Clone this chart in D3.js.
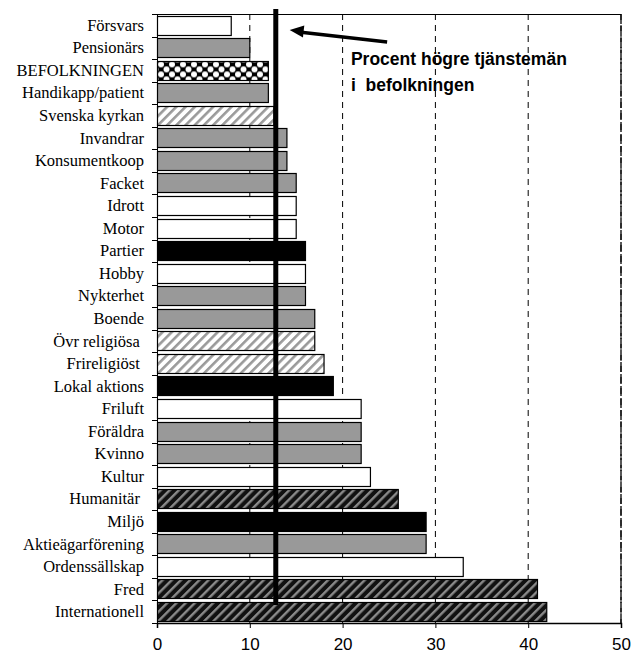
<!DOCTYPE html>
<meta charset="UTF-8">
<style>
body { margin: 0; background: #fff; }
.cat text { font: 16.5px "Liberation Serif", serif; fill: #000; }
.grid line { stroke: #000; stroke-width: 1; stroke-dasharray: 6,5; }
.note { font: bold 17.5px "Liberation Sans", Arial, sans-serif; }
</style>
<body>
<script src="https://d3js.org/d3.v7.min.js"></script>
<script>

// categories, top to bottom
var categories = ["Försvars", "Pensionärs", "BEFOLKNINGEN", "Handikapp/patient", "Svenska kyrkan",
  "Invandrar", "Konsumentkoop", "Facket", "Idrott", "Motor", "Partier", "Hobby", "Nykterhet",
  "Boende", "Övr religiösa ", "Frireligiöst ", "Lokal aktions", "Friluft", "Föräldra", "Kvinno",
  "Kultur", "Humanitär ", "Miljö", "Aktieägarförening", "Ordenssällskap", "Fred", "Internationell"];

// percent
var values = [8, 10, 12, 12, 12.6, 14, 14, 15, 15, 15, 16, 16, 16, 17, 17, 18, 19, 22, 22, 22, 23,
  26, 29, 29, 33, 41, 42];

// fill type of each bar
var kinds = ["white", "gray", "diamond", "gray", "light", "gray", "gray", "gray", "white", "white",
  "black", "white", "gray", "gray", "light", "light", "black", "white", "gray", "gray", "white",
  "dark", "black", "gray", "white", "dark", "dark"];

var refValue = 12.8;
var xTicks = [0, 10, 20, 30, 40, 50];
var noteLines = ["Procent högre tjänstemän", "i  befolkningen"];

var margin = {top: 14, right: 11, bottom: 34, left: 157},
    width = 632 - margin.left - margin.right,
    height = 657 - margin.top - margin.bottom;

var svg = d3.select("body").append("svg")
    .attr("width", 632)
    .attr("height", 657);

var x = d3.scaleLinear().domain([0, 50]).range([0, width]);
var y = d3.scaleBand().domain(categories).range([0, height]).paddingInner(0.14).paddingOuter(0.07);

// patterns
var defs = svg.append("defs");

var light = defs.append("pattern").attr("id", "light")
    .attr("patternUnits", "userSpaceOnUse").attr("width", 6.5).attr("height", 6.5)
    .attr("patternTransform", "rotate(45)");
light.append("rect").attr("width", 6.5).attr("height", 6.5).attr("fill", "#fff");
light.append("rect").attr("width", 2.6).attr("height", 6.5).attr("fill", "#9a9a9a");

var dark = defs.append("pattern").attr("id", "dark")
    .attr("patternUnits", "userSpaceOnUse").attr("width", 6.5).attr("height", 6.5)
    .attr("patternTransform", "rotate(45)");
dark.append("rect").attr("width", 6.5).attr("height", 6.5).attr("fill", "#111");
dark.append("rect").attr("width", 2.4).attr("height", 6.5).attr("fill", "#8a8a8a");

// diamonds centred on the BEFOLKNINGEN bar: black field with white round gaps
var befY = y("BEFOLKNINGEN") + y.bandwidth() / 2 + margin.top;
var dia = defs.append("pattern").attr("id", "diamond")
    .attr("patternUnits", "userSpaceOnUse").attr("width", 11).attr("height", 10)
    .attr("x", margin.left + 1).attr("y", befY - 5);
dia.append("rect").attr("width", 11).attr("height", 10).attr("fill", "#000");
[[0, 5], [11, 5], [5.5, 0], [5.5, 10]].forEach(function(p) {
  dia.append("circle").attr("cx", p[0]).attr("cy", p[1]).attr("r", 3).attr("fill", "#fff");
});

var fills = {white: "#fff", gray: "#999", black: "#000", light: "url(#light)",
             dark: "url(#dark)", diamond: "url(#diamond)"};

var g = svg.append("g")
    .attr("transform", "translate(" + margin.left + "," + margin.top + ")");

// dashed grid
g.append("g").attr("class", "grid")
  .selectAll("line").data(xTicks.slice(1))
  .enter().append("line")
    .attr("x1", d => x(d)).attr("x2", d => x(d))
    .attr("y1", 0).attr("y2", height);

// top border
g.append("line").attr("x1", 0).attr("x2", width).attr("y1", 0.5).attr("y2", 0.5)
  .attr("stroke", "#000");

// bars
g.selectAll("rect.bar").data(categories)
  .enter().append("rect")
    .attr("class", "bar")
    .attr("x", 0.5)
    .attr("y", d => Math.round(y(d)) + 0.5)
    .attr("width", (d, i) => x(values[i]) - 0.5)
    .attr("height", Math.round(y.bandwidth()))
    .attr("fill", (d, i) => fills[kinds[i]])
    .attr("stroke", "#000")
    .attr("stroke-width", 1.2);

// reference line
g.append("line")
  .attr("x1", x(refValue)).attr("x2", x(refValue))
  .attr("y1", -5).attr("y2", height - 18)
  .attr("stroke", "#000").attr("stroke-width", 5);

// left axis: ticks between categories
var leftAx = g.append("g").attr("class", "cat");
leftAx.append("line").attr("x1", 0.5).attr("x2", 0.5).attr("y1", 0).attr("y2", height).attr("stroke", "#000");
var bounds = d3.range(categories.length + 1).map(i => i * height / categories.length);
leftAx.selectAll("line.tk").data(bounds).enter().append("line")
  .attr("class", "tk")
  .attr("x1", -5).attr("x2", 0.5)
  .attr("y1", d => Math.round(d) + 0.5).attr("y2", d => Math.round(d) + 0.5)
  .attr("stroke", "#000");
leftAx.selectAll("text").data(categories).enter().append("text")
  .attr("x", -13)
  .attr("y", d => y(d) + y.bandwidth() / 2)
  .attr("dy", "0.33em")
  .attr("text-anchor", "end")
  .attr("xml:space", "preserve")
  .text(d => d);

// bottom axis
var xAxis = g.append("g")
  .attr("transform", "translate(0," + height + ")")
  .call(d3.axisBottom(x).tickValues(xTicks).tickSize(5).tickPadding(10));
xAxis.select(".domain").attr("stroke", "#000").attr("stroke-width", 1.5);
xAxis.selectAll("text").attr("fill", "#000").style("font", "17px 'Liberation Sans', Arial, sans-serif");

// right border dashed
g.append("line").attr("x1", width).attr("x2", width).attr("y1", 0).attr("y2", height)
  .attr("stroke", "#000").attr("stroke-width", 1.3).attr("stroke-dasharray", "10,2");

// arrow annotation
g.append("line")
  .attr("x1", x(24.8)).attr("y1", 28)
  .attr("x2", x(15.3)).attr("y2", 18)
  .attr("stroke", "#000").attr("stroke-width", 3.5);
var tip = [x(14.3), 16], ang = Math.atan2(18 - 28, x(15.3) - x(24.8));
g.append("path")
  .attr("d", d3.line()([
    tip,
    [tip[0] - 14 * Math.cos(ang) + 6 * Math.sin(ang), tip[1] - 14 * Math.sin(ang) - 6 * Math.cos(ang)],
    [tip[0] - 14 * Math.cos(ang) - 6 * Math.sin(ang), tip[1] - 14 * Math.sin(ang) + 6 * Math.cos(ang)]
  ]) + "Z")
  .attr("fill", "#000");

g.selectAll("text.note").data(noteLines).enter().append("text")
  .attr("class", "note")
  .attr("x", x(20.9))
  .attr("y", (d, i) => 51 + i * 26)
  .attr("xml:space", "preserve")
  .text(d => d);

</script>
</body>
